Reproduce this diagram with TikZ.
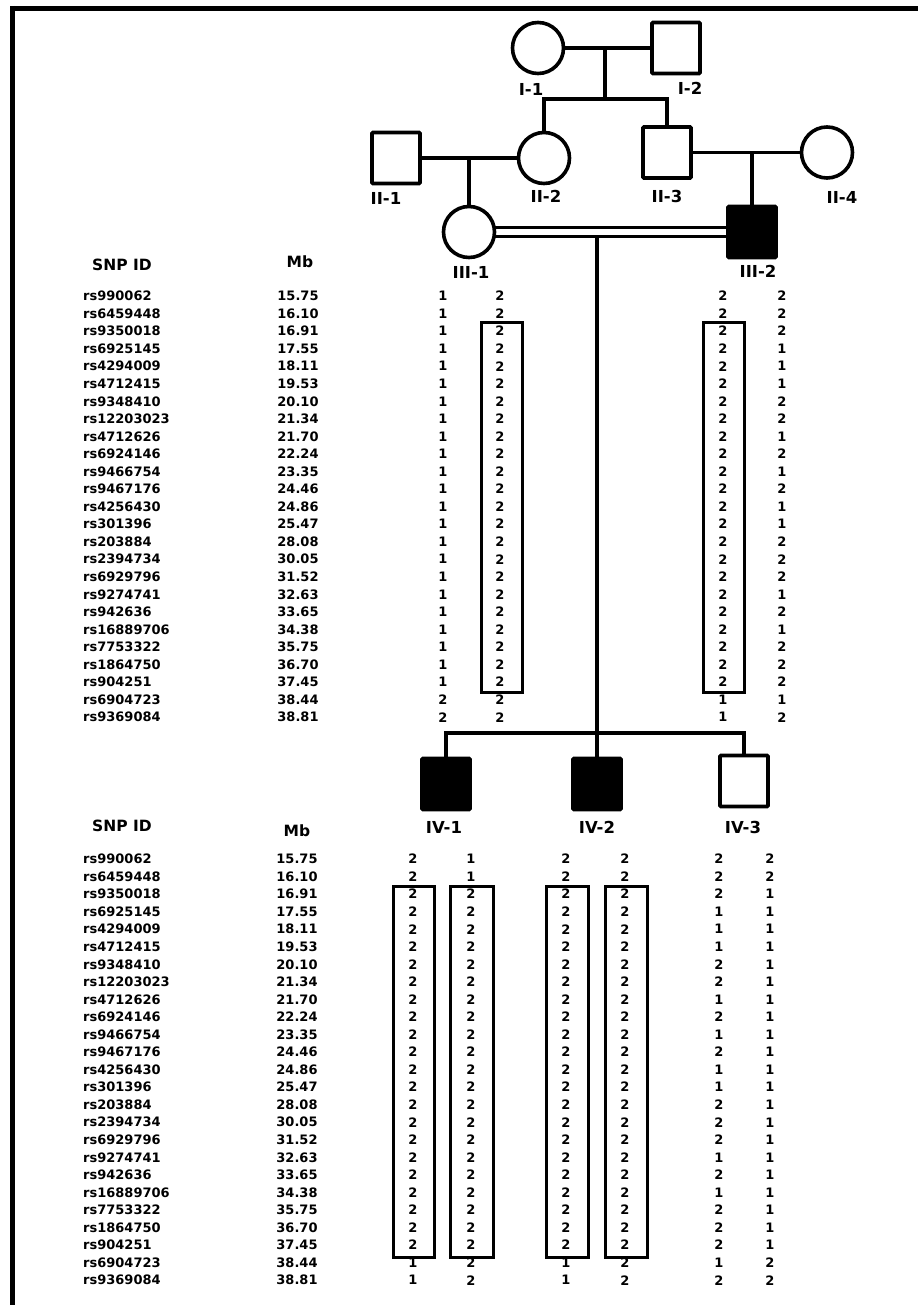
\documentclass[tikz,border=0pt]{standalone}
\usepackage{fontspec}
\setmainfont{DejaVu Sans}
\usetikzlibrary{calc}
\pgfdeclarelayer{bg}
\pgfsetlayers{bg,main}
\tikzset{
  ped/.style={line width=3.6pt},
  female/.style={circle,draw,line width=3.6pt,fill=white,minimum size=51pt,inner sep=0pt},
  male/.style={rectangle,draw,line width=3.6pt,fill=white,minimum width=48pt,minimum height=51pt,inner sep=0pt,rounded corners=1pt},
  affected/.style={fill=black},
  plabel/.style={font=\bfseries\fontsize{16.5}{18}\selectfont,inner sep=0pt},
  head/.style={font=\bfseries\fontsize{15.5}{18}\selectfont,inner sep=0pt},
  tab/.style={font=\bfseries\fontsize{13}{15}\selectfont,inner sep=0pt},
  hapbox/.style={line width=3pt},
  frame/.style={line width=4.5pt},
}
\newcommand\allelecol[4]{%
  \foreach \a [count=\i from 0] in {#4} {\node[tab] (#1\i) at (#2,#3+17.55*\i) {\a};}%
}
\newcommand\snplist{rs990062,rs6459448,rs9350018,rs6925145,rs4294009,rs4712415,rs9348410,rs12203023,rs4712626,rs6924146,rs9466754,rs9467176,rs4256430,rs301396,rs203884,rs2394734,rs6929796,rs9274741,rs942636,rs16889706,rs7753322,rs1864750,rs904251,rs6904723,rs9369084}
\newcommand\mblist{15.75,16.10,16.91,17.55,18.11,19.53,20.10,21.34,21.70,22.24,23.35,24.46,24.86,25.47,28.08,30.05,31.52,32.63,33.65,34.38,35.75,36.70,37.45,38.44,38.81}
\begin{document}
\begin{tikzpicture}[x=1pt,y=-1pt]
\useasboundingbox (0,0) rectangle (918,1305);
% frame
\draw[frame] (10,8.3) -- (918,8.3);
\draw[frame] (12.3,6) -- (12.3,1305);

% pedigree nodes
\node[female] (I1) at (538,48) {};
\node[male] (I2) at (676,48) {};
\node[male] (II1) at (396,158) {};
\node[female] (II2) at (544,158) {};
\node[male] (II3) at (667,152.5) {};
\node[female] (II4) at (827,152.5) {};
\node[female] (III1) at (469,232) {};
\node[male,affected] (III2) at (752,232) {};
\node[male,affected] (IV1) at (446,784) {};
\node[male,affected] (IV2) at (597,784) {};
\node[male] (IV3) at (744,781) {};

% labels
\node[plabel] (lI1) at (531,89) {I-1};
\node[plabel] (lI2) at (690,88) {I-2};
\node[plabel] (lII1) at (386,198) {II-1};
\node[plabel] (lII2) at (546,196) {II-2};
\node[plabel] (lII3) at (667,196) {II-3};
\node[plabel] (lII4) at (842,197) {II-4};
\node[plabel] (lIII1) at (471,272) {III-1};
\node[plabel] (lIII2) at (758,271) {III-2};
\node[plabel] (lIV1) at (444,827) {IV-1};
\node[plabel] (lIV2) at (597,827) {IV-2};
\node[plabel] (lIV3) at (743,827) {IV-3};

% connectors
\coordinate (m1) at (605,48);
\coordinate (s1) at (605,99);
\coordinate (d3) at (597,236.5);
\coordinate (s4) at (597,733);
\begin{pgfonlayer}{bg}
\draw[ped] (I1) -- (I2);
\draw[ped] (m1) -- (s1);
\draw[ped] (II2) |- (s1) -| (II3);
\draw[ped] (II1) -- (II2);
\draw[ped] (III1) -- (III1 |- II1);
\draw[ped] (II3) -- (II4);
\draw[ped] (III2) -- (III2 |- II3);
\draw[ped,line width=3.2pt] ($(III1)+(0,-4.5)$) -- ($(III2)+(0,-4.5)$);
\draw[ped,line width=3.2pt] ($(III1)+(0,4.5)$) -- ($(III2)+(0,4.5)$);
\draw[ped] (d3) -- (IV2);
\draw[ped] (IV1) |- (s4) -| (IV3);
\end{pgfonlayer}

% table headers
\node[head] (snpA) at (122,265) {SNP ID};
\node[head] (mbA) at (300,262) {Mb};
\node[head] (snpB) at (122,826) {SNP ID};
\node[head] (mbB) at (297,831) {Mb};

% SNP ids and Mb
\foreach \s [count=\i from 0] in \snplist {
  \node[tab,anchor=west] (sa\i) at (83,296+17.55*\i) {\s};
  \node[tab,anchor=west] (sb\i) at (83,859+17.55*\i) {\s};
}
\foreach \m [count=\i from 0] in \mblist {
  \node[tab] (ma\i) at (298,296+17.55*\i) {\m};
  \node[tab] (mb\i) at (297,859+17.55*\i) {\m};
}

% alleles generation III
\allelecol{gA}{443}{296}{1,1,1,1,1,1,1,1,1,1,1,1,1,1,1,1,1,1,1,1,1,1,1,2,2}
\allelecol{gB}{500}{296}{2,2,2,2,2,2,2,2,2,2,2,2,2,2,2,2,2,2,2,2,2,2,2,2,2}
\allelecol{gC}{723}{296}{2,2,2,2,2,2,2,2,2,2,2,2,2,2,2,2,2,2,2,2,2,2,2,1,1}
\allelecol{gD}{782}{296}{2,2,2,1,1,1,2,2,1,2,1,2,1,1,2,2,2,1,2,1,2,2,2,1,2}
% alleles generation IV
\allelecol{gE}{413}{859}{2,2,2,2,2,2,2,2,2,2,2,2,2,2,2,2,2,2,2,2,2,2,2,1,1}
\allelecol{gF}{471}{859}{1,1,2,2,2,2,2,2,2,2,2,2,2,2,2,2,2,2,2,2,2,2,2,2,2}
\allelecol{gG}{566}{859}{2,2,2,2,2,2,2,2,2,2,2,2,2,2,2,2,2,2,2,2,2,2,2,1,1}
\allelecol{gH}{625}{859}{2,2,2,2,2,2,2,2,2,2,2,2,2,2,2,2,2,2,2,2,2,2,2,2,2}
\allelecol{gJ}{719}{859}{2,2,2,1,1,1,2,2,1,2,1,2,1,1,2,2,2,1,2,1,2,2,2,1,2}
\allelecol{gK}{770}{859}{2,2,1,1,1,1,1,1,1,1,1,1,1,1,1,1,1,1,1,1,1,1,1,2,2}

% haplotype boxes
\draw[hapbox] (481,322) rectangle (522,692);
\draw[hapbox] (703,322) rectangle (744,692);
\draw[hapbox] (393,886) rectangle (434,1257);
\draw[hapbox] (450,886) rectangle (493,1257);
\draw[hapbox] (546,886) rectangle (588,1257);
\draw[hapbox] (605,886) rectangle (647,1257);
\end{tikzpicture}
\end{document}
